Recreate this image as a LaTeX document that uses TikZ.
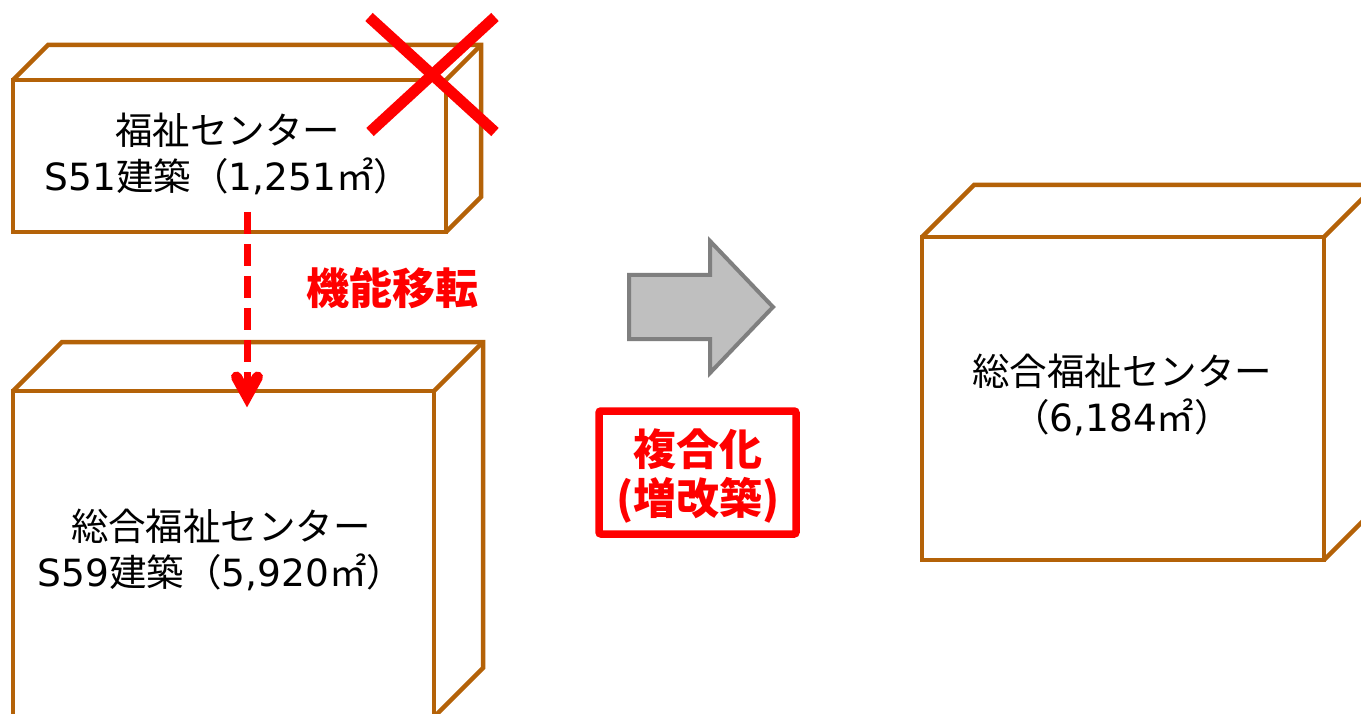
\documentclass[tikz,border=0pt]{standalone}
\usepackage{fontspec}
\setmainfont{Noto Sans CJK JP}
\newfontfamily\lat{DejaVu Sans}
\usetikzlibrary{calc}
\definecolor{brn}{RGB}{180,98,8}
\definecolor{arrfill}{RGB}{191,191,191}
\definecolor{arrline}{RGB}{127,127,127}
\begin{document}
\begin{tikzpicture}[x=1pt,y=-1pt,
  front/.style={draw=brn, line width=4.5pt, fill=white, inner sep=0pt, outer sep=0pt},
  edge/.style={draw=brn, line width=4.5pt},
  lbl/.style={align=center, font=\fontsize{37.5}{46}\selectfont, inner sep=0pt},
  redlbl/.style={align=center, text=red, font=\fontsize{43}{49}\selectfont\bfseries, inner sep=0pt},
  movearrow/.style={draw=red, line width=7pt, dash pattern=on 22pt off 10pt},
  chevron/.style={draw=red, line width=11pt, line cap=round, line join=miter, miter limit=10},
  cross/.style={draw=red, line width=11pt},
  bigarrow/.style={draw=arrline, fill=arrfill, line width=4pt},
  tagbox/.style={draw=red, line width=7.5pt, rounded corners=2pt, inner sep=0pt}
]
\useasboundingbox (0,0) rectangle (1361,714);
\clip (0,0) rectangle (1361,714);
\fill[white] (0,0) rectangle (1361,714);

% Box 1 (old welfare center)
\node[front, minimum width=433pt, minimum height=152pt] (b1) at (229.5,156) {};
\draw[edge] (b1.north west) -- ++(35,-35) -- ++(433,0) -- ++(0,152) -- (b1.south east);
\draw[edge] (b1.north east) -- ++(35,-35);
\node[lbl] (t1) at (228,154) {福祉センター\\{\lat S51}建築（{\lat 1,251}㎡）};

% Box 2 (general welfare center)
\node[front, minimum width=421pt, minimum height=326pt] (b2) at (223.5,554) {};
\draw[edge] (b2.north west) -- ++(49,-49) -- ++(421,0) -- ++(0,326) -- (b2.south east);
\draw[edge] (b2.north east) -- ++(49,-49);
\node[lbl] (t2) at (221,550) {総合福祉センター\\{\lat S59}建築（{\lat 5,920}㎡）};

% Box 3 (result)
\node[front, minimum width=402pt, minimum height=323pt] (b3) at (1123,398.5) {};
\draw[edge] (b3.north west) -- ++(52,-52) -- ++(402,0) -- ++(0,323) -- (b3.south east);
\draw[edge] (b3.north east) -- ++(52,-52);
\node[lbl] (t3) at (1122,395) {総合福祉センター\\（{\lat 6,184}㎡）};

% Red cross
\coordinate (x1) at (369,17);
\coordinate (x2) at (495,132);
\coordinate (x3) at (495,17);
\coordinate (x4) at (370,132);
\draw[cross] (x1) -- (x2);
\draw[cross] (x3) -- (x4);

% dashed move arrow
\coordinate (mS) at (247,212);
\coordinate (mE) at (247,396);
\draw[movearrow] (mS) -- ($(mE)+(0,-10)$);
\draw[chevron] ($(mE)+(-10.5,-19)$) -- (mE) -- ($(mE)+(10.5,-19)$);
\node[redlbl] (mv) at (392,288) {機能移転};

% big grey arrow
\draw[bigarrow] (629,275) -- (710,275) -- (710,241) -- (773,307) -- (710,373) -- (710,339) -- (629,339) -- cycle;

% tag box
\node[tagbox, minimum width=197pt, minimum height=123pt] (tag) at (697.5,472.5) {};
\node[redlbl] (tagt) at (698,476) {複合化\\(増改築)};
\end{tikzpicture}
\end{document}
